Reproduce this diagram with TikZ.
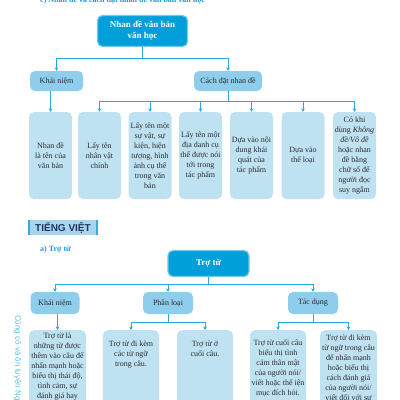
\documentclass[tikz,border=0pt]{standalone}
\usepackage{fontspec}
\setmainfont{Liberation Serif}
\newfontfamily\hdsans{Liberation Sans}
\usetikzlibrary{arrows.meta}
\definecolor{topblue}{HTML}{009FDA}
\definecolor{glow}{HTML}{74C8EE}
\definecolor{midblue}{HTML}{8ECEEC}
\definecolor{leafblue}{HTML}{BFE2F3}
\definecolor{lineblue}{HTML}{2AA7DF}
\definecolor{ink}{HTML}{2B2B2B}
\definecolor{headblue}{HTML}{1A9AD6}
\definecolor{tvfill}{HTML}{A8D5EE}
\definecolor{tvbar}{HTML}{3AA7DD}
\definecolor{tvink}{HTML}{1F3560}
\definecolor{sideblue}{HTML}{5BBDE9}
\tikzset{
  topbox/.style={rounded corners=5pt, fill=topblue, draw=glow, line width=1.2pt, text=white,
    font=\bfseries\fontsize{9}{11}\selectfont, align=center, inner sep=0pt},
  midbox/.style={rounded corners=5pt, fill=midblue, text=ink,
    font=\fontsize{8}{10}\selectfont, align=center, inner sep=0pt},
  leafbox/.style={rounded corners=5pt, fill=leafblue, text=ink,
    font=\fontsize{8}{10}\selectfont, align=center, inner sep=0pt},
  leaftext/.style={text=ink, font=\fontsize{8}{10}\selectfont, align=center, inner sep=0pt, anchor=north},
  conn/.style={draw=lineblue, line width=0.8pt},
  arr/.style={conn, -{Stealth[length=3.5pt,width=3.5pt]}},
  heading/.style={text=headblue, font=\bfseries\fontsize{8}{10}\selectfont, inner sep=0pt}
}
\begin{document}
\begin{tikzpicture}[x=1pt,y=-1pt]
\useasboundingbox (0,0) rectangle (400,400);
\clip (0,0) rectangle (400,400);

% ---------- part 1 ----------
\node[heading, anchor=base west] (title1) at (40,2) {c) Nhan đề và cách đặt nhan đề văn bản văn học};

\node[topbox, minimum width=90pt, minimum height=31pt] (top1) at (142.5,31) {Nhan đề văn bản\\văn học};
\node[midbox, minimum width=53pt, minimum height=20pt] (km1) at (56.5,81) {Khái niệm};
\node[midbox, minimum width=68pt, minimum height=20pt] (cd1) at (228,81) {Cách đặt nhan đề};

\coordinate (j1) at (142.5,58);
\draw[conn] (top1.south) -- (j1);
\draw[arr] (j1) -| (km1.north);
\draw[arr] (j1) -| (cd1.north);

\node[leafbox, minimum width=43pt, minimum height=87pt] (L1) at (50.5,155.5) {Nhan đề\\là tên của\\văn bản};
\node[leafbox, minimum width=43pt, minimum height=87pt] (L2) at (99.5,155.5) {Lấy tên\\nhân vật\\chính};
\node[leafbox, minimum width=43pt, minimum height=87pt] (L3) at (150,155.5) {Lấy tên một\\sự vật, sự\\kiện, hiện\\tượng, hình\\ảnh cụ thể\\trong văn\\bản};
\node[leafbox, minimum width=43pt, minimum height=87pt] (L4) at (200.5,155.5) {Lấy tên một\\địa danh cụ\\thể được nói\\tới trong\\tác phẩm};
\node[leafbox, minimum width=43pt, minimum height=87pt] (L5) at (251.5,155.5) {Dựa vào nội\\dung khái\\quát của\\tác phẩm};
\node[leafbox, minimum width=43pt, minimum height=87pt] (L6) at (303,155.5) {Dựa vào\\thể loại};
\node[leafbox, minimum width=43pt, minimum height=87pt] (L7) at (354.5,155.5) {Có khi\\dùng \textit{Không}\\\textit{đề/Vô đề}\\hoặc nhan\\đề bằng\\chữ số để\\người đọc\\suy ngẫm};

\draw[arr] (km1.south -| L1.north) -- (L1.north);
\coordinate (j2) at (228,101);
\draw[conn] (cd1.south) -- (j2);
\draw[arr] (j2) -| (L2.north);
\draw[arr] (j2) -| (L3.north);
\draw[arr] (j2) -| (L4.north);
\draw[arr] (j2) -| (L5.north);
\draw[arr] (j2) -| (L6.north);
\draw[arr] (j2) -| (L7.north);

% ---------- Tieng Viet header ----------
\node[fill=tvfill, minimum width=70pt, minimum height=15pt, inner sep=0pt,
      text=tvink, font=\hdsans\bfseries\fontsize{10}{12}\selectfont] (tv) at (63,227.5) {TIẾNG VIỆT};
\fill[tvbar] (tv.north west) rectangle ([xshift=2pt]tv.south west);
\fill[tvbar] ([xshift=-2pt]tv.north east) rectangle (tv.south east);
\node[heading, anchor=west] (title2) at (40,250) {a) Trợ từ};

% ---------- part 2 ----------
\node[topbox, minimum width=81pt, minimum height=26pt] (top2) at (208.5,263.5) {Trợ từ};
\node[midbox, minimum width=49pt, minimum height=22pt] (km2) at (55,303) {Khái niệm};
\node[midbox, minimum width=50pt, minimum height=22pt] (pl2) at (168,303) {Phân loại};
\node[midbox, minimum width=50pt, minimum height=22pt] (td2) at (313,303) {Tác dụng};

\coordinate (j3) at (208.5,284);
\draw[conn] (top2.south) -- (j3);
\draw[arr] (j3) -| (km2.north);
\draw[arr] (j3) -| (pl2.north);
\draw[arr] (j3) -| (td2.north);

\node[leafbox, anchor=north, minimum width=57pt, minimum height=100pt] (B1) at (57.5,330) {};
\node[leafbox, anchor=north, minimum width=56pt, minimum height=100pt] (B2) at (131,330) {};
\node[leafbox, anchor=north, minimum width=56pt, minimum height=100pt] (B3) at (205,330) {};
\node[leafbox, anchor=north, minimum width=56pt, minimum height=100pt] (B4) at (278,330) {};
\node[leafbox, anchor=north, minimum width=57pt, minimum height=100pt] (B5) at (348.5,330) {};

\node[leaftext] (T1) at ([yshift=-3pt]B1.north) {Trợ từ là\\những từ được\\thêm vào câu để\\nhấn mạnh hoặc\\biểu thị thái độ,\\tình cảm, sự\\đánh giá hay};
\node[leaftext] (T2) at ([yshift=-11pt]B2.north) {Trợ từ đi kèm\\các từ ngữ\\trong câu.};
\node[leaftext] (T3) at ([yshift=-11pt]B3.north) {Trợ từ ở\\cuối câu.};
\node[leaftext] (T4) at ([yshift=-10pt]B4.north) {Trợ từ cuối câu\\biểu thị tình\\cảm thân mật\\của người nói/\\viết hoặc thể iện\\mục đích hỏi.};
\node[leaftext] (T5) at ([yshift=-5pt]B5.north) {Trợ từ đi kèm\\từ ngữ trong câu\\để nhấn mạnh\\hoặc biểu thị\\cách đánh giá\\của người nói/\\viết đối với sự};

\draw[arr] (km2.south -| B1.north) -- (B1.north);
\coordinate (j4) at (168,322);
\draw[conn] (pl2.south) -- (j4);
\draw[arr] (j4) -| (B2.north);
\draw[arr] (j4) -| (B3.north);
\coordinate (j5) at (313,322);
\draw[conn] (td2.south) -- (j5);
\draw[arr] (j5) -| (B4.north);
\draw[arr] (j5) -| (B5.north);

% ---------- side text ----------
\node[text=sideblue, font=\hdsans\fontsize{8}{10}\selectfont, rotate=-90, anchor=west, inner sep=0pt] (side) at (17.5,315) {Củng cố và ôn luyện Ngữ văn};
\end{tikzpicture}
\end{document}
